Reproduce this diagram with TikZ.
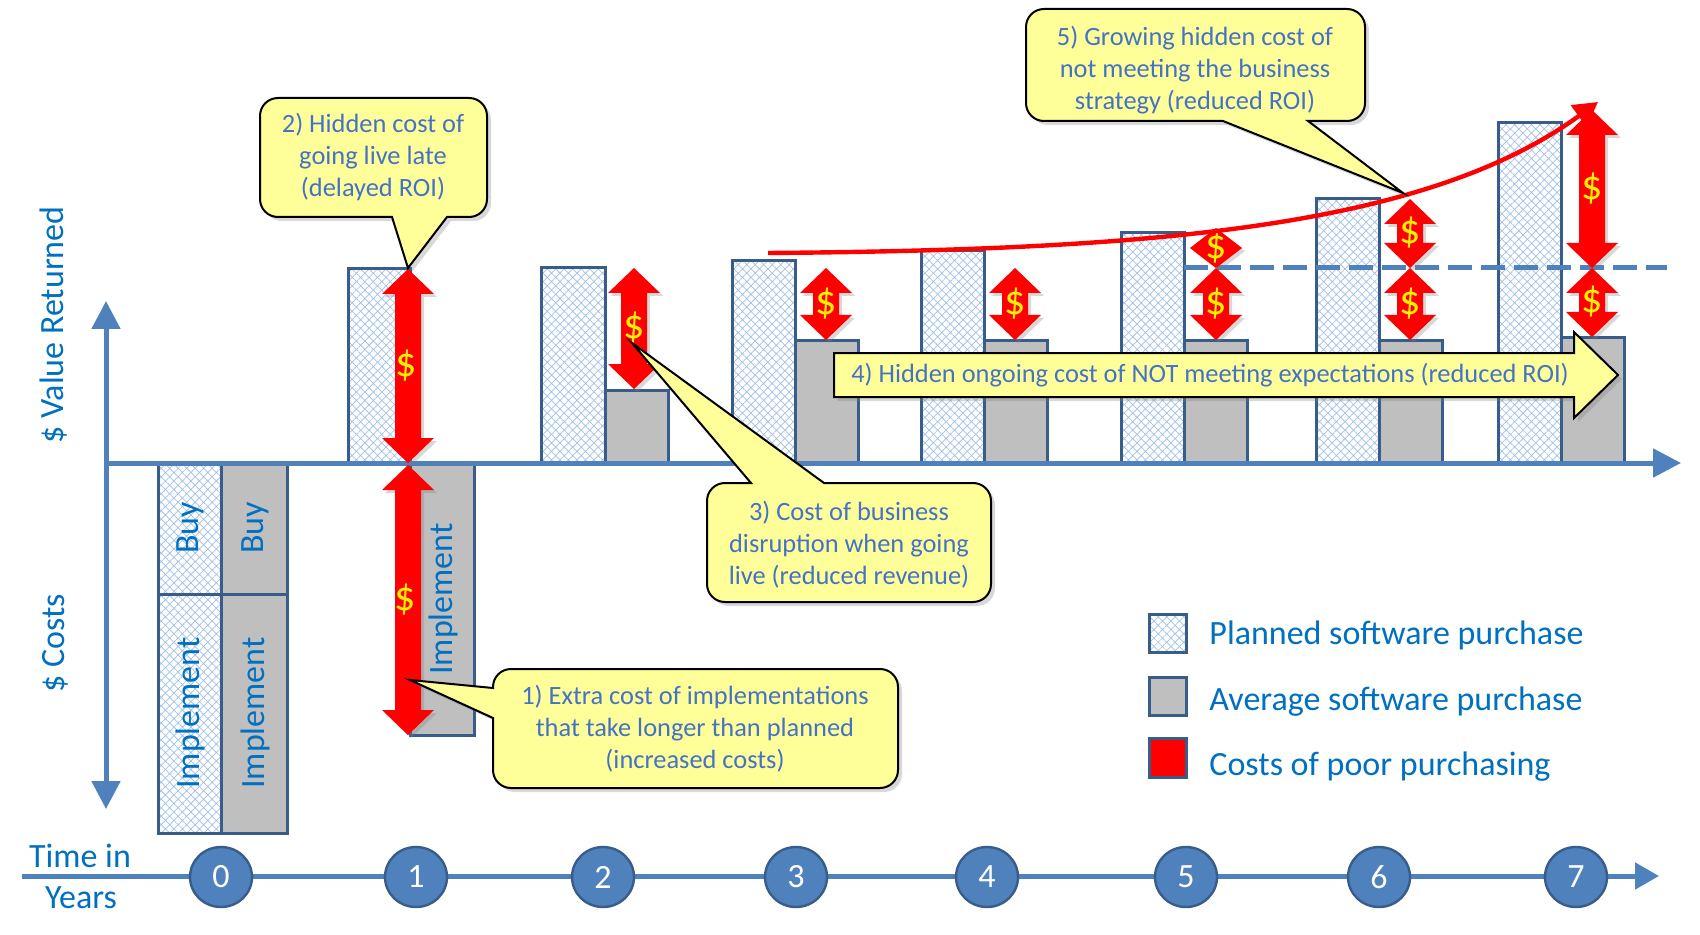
\documentclass[tikz,border=0pt]{standalone}
\usepackage{fontspec}
\setmainfont{Carlito}
\usetikzlibrary{arrows.meta,patterns.meta,shapes.geometric,shadows}
\definecolor{axisblue}{RGB}{79,129,189}
\definecolor{barborder}{RGB}{56,93,138}
\definecolor{txtblue}{RGB}{0,112,192}
\definecolor{calltxt}{RGB}{68,114,196}
\definecolor{callfill}{RGB}{255,255,153}
\definecolor{greyfill}{RGB}{191,191,191}
\definecolor{hatchblue}{RGB}{160,192,232}

\newcommand{\dollarArrow}[3]{%
  \pgfmathsetmacro{\dAh}{min(25,(#3-#2)/2)}%
  \pgfmathsetmacro{\dAs}{(#3-#2)-2*\dAh}%
  \fill[redarrow] (#1,#2) -- ++(26,\dAh) -- ++(-13,0) -- ++(0,\dAs) -- ++(13,0)
    -- ++(-26,\dAh) -- ++(-26,-\dAh) -- ++(13,0) -- ++(0,-\dAs) -- ++(-13,0) -- cycle;
}

\begin{document}
\begin{tikzpicture}[x=0.5pt,y=-0.5pt,
  planned/.style={draw=barborder, line width=1.5pt, pattern={Hatch[angle=45,distance=3pt,line width=0.35pt]}, pattern color=hatchblue},
  avg/.style={draw=barborder, line width=1.5pt, fill=greyfill},
  axisline/.style={draw=axisblue, line width=2.5pt},
  redarrow/.style={fill=red, drop shadow={shadow xshift=1.5pt,shadow yshift=-1.5pt,opacity=0.3}},
  dollar/.style={text=yellow, font=\fontsize{21}{25}\selectfont, inner sep=0pt},
  callshape/.style={fill=callfill, draw=black, line width=1pt, drop shadow={shadow xshift=2pt,shadow yshift=-2pt,opacity=0.3}},
  calltext/.style={text=calltxt, align=center, font=\fontsize{13.2}{16}\selectfont, inner sep=0pt},
  lbl/.style={text=txtblue, font=\fontsize{17}{20}\selectfont, inner sep=0pt},
  yearcirc/.style={ellipse, minimum width=31pt, minimum height=30pt, inner sep=0pt, fill=axisblue, draw=barborder, line width=1.2pt, text=white, font=\fontsize{17}{20}\selectfont},
  bigtip/.style={-{Triangle[width=14pt,length=14pt]}}
]
\useasboundingbox (0,0) rectangle (1700,935);
\fill[white] (0,0) rectangle (1700,935);

% ---- Year 0 stacked bars
\draw[planned] (158,463) rectangle (221,594);
\draw[planned] (158,594) rectangle (221,833);
\draw[avg] (221,463) rectangle (287,594);
\draw[avg] (221,594) rectangle (287,833);
\node[lbl, rotate=90] (buyP) at (190,528) {Buy};
\node[lbl, rotate=90] (impP) at (190,713) {Implement};
\node[lbl, rotate=90] (buyA) at (255,528) {Buy};
\node[lbl, rotate=90] (impA) at (255,713) {Implement};

% ---- Year 1..7 bars
\draw[planned] (348,269) rectangle (410,463);
\draw[avg] (410,463) rectangle (474,735);
\node[lbl, rotate=90] (imp1) at (443,599) {Implement};
\draw[planned] (541,268) rectangle (605,463);
\draw[avg] (605,390) rectangle (668,463);
\draw[planned] (732,261) rectangle (795,463);
\draw[avg] (795,340) rectangle (858,463);
\draw[planned] (921,251) rectangle (984,463);
\draw[avg] (984,340) rectangle (1047,463);
\draw[planned] (1121,233) rectangle (1184,463);
\draw[avg] (1184,340) rectangle (1247,463);
\draw[planned] (1316,199) rectangle (1379,463);
\draw[avg] (1379,340) rectangle (1442,463);
\draw[planned] (1498,123) rectangle (1561,463);
\draw[avg] (1561,337) rectangle (1624,463);

% ---- Axes
\coordinate (vtop) at (106,301);
\coordinate (vbot) at (106,809);
\coordinate (origin) at (106,463);
\coordinate (xend) at (1681,463);
\draw[axisline, {Triangle[width=14pt,length=14pt]}-{Triangle[width=14pt,length=14pt]}] (vtop) -- (vbot);
\draw[axisline, bigtip] (origin) -- (xend);
\node[lbl, rotate=90] (yval) at (54,325) {\$ Value Returned};
\node[lbl, rotate=90] (ycost) at (55,643) {\$ Costs};

% ---- Dashed expectation line
\coordinate (dashs) at (1184,268);
\coordinate (dashe) at (1667,268);
\draw[draw=axisblue, line width=2.5pt, dash pattern=on 12pt off 4.5pt] (dashs) -- (dashe);

% ---- Red double arrows
\dollarArrow{408}{269}{463}
\dollarArrow{408}{465}{735}
\dollarArrow{634}{268}{389}
\dollarArrow{826}{268}{340}
\dollarArrow{1015}{268}{340}
\dollarArrow{1216}{228}{268}
\dollarArrow{1216}{268}{340}
\dollarArrow{1410}{199}{268}
\dollarArrow{1410}{268}{340}
\dollarArrow{1592}{110}{268}
\dollarArrow{1592}{268}{337}
\node[dollar] (d1a) at (406,366) {\$};
\node[dollar] (d1b) at (405,600) {\$};
\node[dollar] (d2) at (634,328) {\$};
\node[dollar] (d3) at (826,304) {\$};
\node[dollar] (d4) at (1015,304) {\$};
\node[dollar] (d5a) at (1216,248) {\$};
\node[dollar] (d5b) at (1216,304) {\$};
\node[dollar] (d6a) at (1410,233) {\$};
\node[dollar] (d6b) at (1410,304) {\$};
\node[dollar] (d7a) at (1592,189) {\$};
\node[dollar] (d7b) at (1592,302) {\$};

% ---- Growing red curve
\coordinate (cs) at (768,253);
\coordinate (ce) at (1598,102);
\draw[red, line width=2.2pt, -{Triangle[width=13pt,length=12pt]}] (cs) .. controls (1150,250) and (1425,228) .. (ce);

% ---- Callout 2
\path[callshape] (278,98) -- (469,98) .. controls (479,98) and (487,106) .. (487,116) -- (487,199)
  .. controls (487,209) and (479,217) .. (469,217) -- (447,217) -- (408,268) -- (392,217) -- (278,217)
  .. controls (268,217) and (260,209) .. (260,199) -- (260,116) .. controls (260,106) and (268,98) .. (278,98) -- cycle;
\node[calltext] (c2) at (373,157) {2) Hidden cost of\\going live late\\(delayed ROI)};

% ---- Callout 3
\path[callshape] (725,483) -- (751,483) -- (632,343) -- (824,483) -- (973,483)
  .. controls (983,483) and (991,491) .. (991,501) -- (991,584) .. controls (991,594) and (983,602) .. (973,602)
  -- (725,602) .. controls (715,602) and (707,594) .. (707,584) -- (707,501) .. controls (707,491) and (715,483) .. (725,483) -- cycle;
\node[calltext] (c3) at (849,545) {3) Cost of business\\disruption when going\\live (reduced revenue)};

% ---- Callout 1
\path[callshape] (511,669) -- (880,669) .. controls (890,669) and (898,677) .. (898,687) -- (898,770)
  .. controls (898,780) and (890,788) .. (880,788) -- (511,788) .. controls (501,788) and (493,780) .. (493,770)
  -- (493,718) -- (410,680) -- (493,688) -- (493,687) .. controls (493,677) and (501,669) .. (511,669) -- cycle;
\node[calltext] (c1) at (695,729) {1) Extra cost of implementations\\that take longer than planned\\(increased costs)};

% ---- Callout 5
\path[callshape] (1044,9) -- (1347,9) .. controls (1357,9) and (1365,17) .. (1365,27) -- (1365,103)
  .. controls (1365,113) and (1357,121) .. (1347,121) -- (1308,121) -- (1403,193) -- (1223,121) -- (1044,121)
  .. controls (1034,121) and (1026,113) .. (1026,103) -- (1026,27) .. controls (1026,17) and (1034,9) .. (1044,9) -- cycle;
\node[calltext] (c5) at (1195,70) {5) Growing hidden cost of\\not meeting the business\\strategy (reduced ROI)};

% ---- Callout 4 (arrow)
\path[callshape] (834,353) -- (1574,353) -- (1574,332) -- (1618,375) -- (1574,418) -- (1574,397) -- (834,397) -- cycle;
\node[calltext] (c4) at (1210,375) {4) Hidden ongoing cost of NOT meeting expectations (reduced ROI)};

% ---- Legend
\draw[planned] (1149,614) rectangle (1186,652);
\draw[avg] (1149,677) rectangle (1186,715);
\draw[draw=barborder, line width=1.5pt, fill=red] (1149,738) rectangle (1186,777);
\node[lbl, anchor=west] (lg1) at (1209,635) {Planned software purchase};
\node[lbl, anchor=west] (lg2) at (1209,702) {Average software purchase};
\node[lbl, anchor=west] (lg3) at (1209,767) {Costs of poor purchasing};

% ---- Time axis
\coordinate (ts) at (22,876);
\coordinate (te) at (1659,876);
\draw[axisline, -{Triangle[width=13pt,length=12pt]}] (ts) -- (te);
\node[lbl] (tin) at (80,856) {Time in};
\node[lbl] (tyr) at (81,898) {Years};
\foreach \n/\x in {0/221,1/416,2/603,3/796,4/987,5/1186,6/1379,7/1576}{
  \node[yearcirc] (yr\n) at (\x,877) {\n};
}
\end{tikzpicture}
\end{document}
